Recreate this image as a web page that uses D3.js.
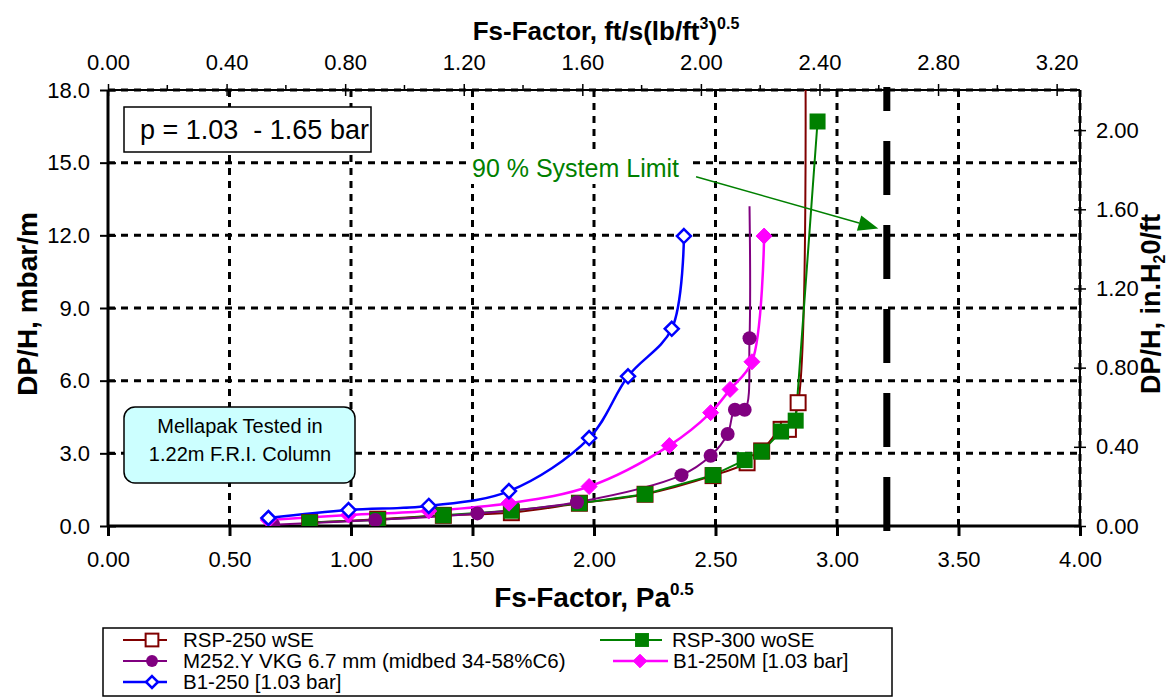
<!DOCTYPE html>
<html>
<head>
<meta charset="utf-8">
<script src="https://cdn.jsdelivr.net/npm/d3@7"></script>
<style>
  body { margin:0; background:#fff; }
  svg text { font-family: "Liberation Sans", Arial, sans-serif; }
</style>
</head>
<body>
<div id="chart"></div>
<script>
// Fs-Factor (Pa^0.5) vs DP/H (mbar/m)
var rsp250X = [0.83, 1.11, 1.38, 1.66, 1.94, 2.21, 2.49, 2.63, 2.69, 2.77, 2.80, 2.84]
var rsp250Y = [0.14, 0.28, 0.44, 0.55, 0.94, 1.31, 2.08, 2.61, 3.10, 3.99, 3.99, 5.09]
var rsp250Tail = [2.87, 19.5]   // line runs off the top

var rsp300X = [0.83, 1.11, 1.38, 1.66, 1.94, 2.21, 2.49, 2.62, 2.69, 2.77, 2.83, 2.92]
var rsp300Y = [0.14, 0.25, 0.44, 0.63, 0.94, 1.31, 2.10, 2.72, 3.07, 3.90, 4.35, 16.7]

var m252X = [0.68, 1.10, 1.52, 1.93, 2.36, 2.48, 2.55, 2.58, 2.62, 2.64]
var m252Y = [0.05, 0.25, 0.52, 0.98, 2.10, 2.90, 3.80, 4.80, 4.80, 7.75]
var m252Tail = [2.64, 13.2]     // line end without marker

var b1250mX = [0.66, 0.99, 1.32, 1.65, 1.98, 2.31, 2.48, 2.56, 2.65, 2.70]
var b1250mY = [0.25, 0.45, 0.62, 0.94, 1.63, 3.32, 4.68, 5.64, 6.78, 11.97]

var b1250X = [0.66, 0.99, 1.32, 1.65, 1.98, 2.14, 2.32, 2.37]
var b1250Y = [0.33, 0.66, 0.83, 1.44, 3.63, 6.18, 8.14, 11.97]

var limitX = 3.205               // 90 % system limit
var arrowFrom = [2.42, 14.42]
var arrowTo = [3.17, 12.28]

var bottomTicks = [0, 0.5, 1, 1.5, 2, 2.5, 3, 3.5, 4]
var leftTicks = [0, 3, 6, 9, 12, 15, 18]
var topTicks = [0, 0.4, 0.8, 1.2, 1.6, 2.0, 2.4, 2.8, 3.2]
var rightTicks = [0, 0.4, 0.8, 1.2, 1.6, 2.0]

var W = 1174, H = 697
var L = 108, R = 1080, T = 90, B = 526
var FS = "Liberation Sans, Arial, sans-serif"

var svg = d3.select("#chart").append("svg").attr("width", W).attr("height", H)

var x = d3.scaleLinear().domain([0, 4]).range([L, R])
var y = d3.scaleLinear().domain([0, 18]).range([B, T])
// unit conversions for the secondary axes
var xTop = d3.scaleLinear().domain([0, 4 * 0.8197]).range([L, R])
var yRight = d3.scaleLinear().domain([0, 18 * 0.12237]).range([B, T])

svg.append("defs").append("clipPath").attr("id", "plotclip")
  .append("rect").attr("x", L).attr("y", T).attr("width", R - L).attr("height", B - T)

// grid
var grid = svg.append("g")
grid.selectAll("line.gx").data(bottomTicks.slice(1)).enter().append("line")
  .attr("x1", d => x(d)).attr("x2", d => x(d)).attr("y1", T).attr("y2", B)
  .attr("stroke", "#000").attr("stroke-width", 3).attr("stroke-dasharray", "7,6")
grid.selectAll("line.gy").data(leftTicks.slice(1)).enter().append("line")
  .attr("x1", L).attr("x2", R).attr("y1", d => y(d)).attr("y2", d => y(d))
  .attr("stroke", "#000").attr("stroke-width", 3).attr("stroke-dasharray", "7,6")

// frame lines
svg.append("line").attr("x1", L).attr("x2", R).attr("y1", T).attr("y2", T).attr("stroke", "#000").attr("stroke-width", 2)
svg.append("line").attr("x1", R).attr("x2", R).attr("y1", T).attr("y2", B).attr("stroke", "#000").attr("stroke-width", 2)

// axes
function styleAxis(g) {
  g.selectAll("text").attr("font-family", FS).attr("font-size", 22).attr("fill", "#000")
  g.selectAll("line").attr("stroke", "#000").attr("stroke-width", 1.5)
  g.select(".domain").remove()
}
var axB = svg.append("g").attr("transform", "translate(0," + B + ")")
  .call(d3.axisBottom(x).tickValues(bottomTicks).tickFormat(d3.format(".2f")).tickSize(10).tickPadding(15))
styleAxis(axB)
axB.selectAll("line").attr("stroke-width", 3)

var axL = svg.append("g").attr("transform", "translate(" + L + ",0)")
  .call(d3.axisLeft(y).tickValues(leftTicks).tickFormat(d3.format(".1f")).tickSize(8).tickPadding(10))
styleAxis(axL)
axL.selectAll(".tick line").attr("x2", 8).attr("x1", -8).attr("stroke-width", 2)

var axT = svg.append("g").attr("transform", "translate(0," + T + ")")
  .call(d3.axisTop(xTop).tickValues(topTicks).tickFormat(d3.format(".2f")).tickSize(6).tickPadding(14))
styleAxis(axT)
axT.selectAll(".tick line").attr("y2", -6).attr("y1", 6)
svg.append("g").selectAll("line").data(d3.range(0.2, 3.3, 0.4)).enter().append("line")
  .attr("x1", d => xTop(d)).attr("x2", d => xTop(d)).attr("y1", T).attr("y2", T - 5)
  .attr("stroke", "#000").attr("stroke-width", 1.5)

var axR = svg.append("g").attr("transform", "translate(" + R + ",0)")
  .call(d3.axisRight(yRight).tickValues(rightTicks).tickFormat(d3.format(".2f")).tickSize(6).tickPadding(10))
styleAxis(axR)
axR.selectAll(".tick line").attr("x1", -6).attr("x2", 6)

svg.append("line").attr("x1", L).attr("x2", L).attr("y1", T).attr("y2", B).attr("stroke", "#000").attr("stroke-width", 3)
svg.append("line").attr("x1", L).attr("x2", R).attr("y1", B).attr("y2", B).attr("stroke", "#000").attr("stroke-width", 3)

// axis titles
var tB = svg.append("text").attr("x", 594).attr("y", 607).attr("text-anchor", "middle")
  .attr("font-size", 28).attr("font-weight", "bold")
tB.append("tspan").text("Fs-Factor, Pa")
tB.append("tspan").text("0.5").attr("font-size", 17).attr("dy", -12)

var tT = svg.append("text").attr("x", 606).attr("y", 40).attr("text-anchor", "middle")
  .attr("font-size", 26).attr("font-weight", "bold")
tT.append("tspan").text("Fs-Factor, ft/s(lb/ft")
tT.append("tspan").text("3").attr("font-size", 16).attr("dy", -11)
tT.append("tspan").text(")").attr("dy", 11)
tT.append("tspan").text("0.5").attr("font-size", 16).attr("dy", -11)

svg.append("text").attr("transform", "translate(37,304) rotate(-90)").attr("text-anchor", "middle")
  .attr("font-size", 28).attr("font-weight", "bold").text("DP/H, mbar/m")

var tR = svg.append("text").attr("transform", "translate(1160,304) rotate(-90)").attr("text-anchor", "middle")
  .attr("font-size", 27).attr("font-weight", "bold")
tR.append("tspan").text("DP/H, in.H")
tR.append("tspan").text("2").attr("font-size", 16).attr("dy", 5)
tR.append("tspan").text("0/ft").attr("dy", -5)

// 90% limit line
svg.append("line").attr("x1", x(limitX)).attr("x2", x(limitX)).attr("y1", B + 5).attr("y2", T - 3)
  .attr("stroke", "#000").attr("stroke-width", 7).attr("stroke-dasharray", "54,30")

// series
var series = [
  {xs: rsp250X, ys: rsp250Y, tail: rsp250Tail, color: "#800000", w: 2, curve: d3.curveCatmullRom.alpha(0.5), mark: "sq", fill: "#fff", label: "RSP-250 wSE"},
  {xs: rsp300X, ys: rsp300Y, color: "#008000", w: 2, curve: d3.curveLinear, mark: "sq", fill: "#008000", label: "RSP-300 woSE"},
  {xs: m252X, ys: m252Y, tail: m252Tail, color: "#800080", w: 2, curve: d3.curveCatmullRom.alpha(0.5), mark: "circle", fill: "#800080", label: "M252.Y VKG 6.7 mm (midbed 34-58%C6)"},
  {xs: b1250mX, ys: b1250mY, color: "#FF00FF", w: 2.5, curve: d3.curveCatmullRom.alpha(0.5), mark: "diamond", fill: "#FF00FF", label: "B1-250M [1.03 bar]"},
  {xs: b1250X, ys: b1250Y, color: "#0000FF", w: 2.5, curve: d3.curveCatmullRom.alpha(0.5), mark: "diamond", fill: "#fff", label: "B1-250 [1.03 bar]"}
]

function drawMarker(g, s, cx, cy, scale) {
  var k = scale || 1
  if (s.mark == "sq") {
    var sz = (s.fill == "#fff" ? 15 : 14) * k
    g.append("rect").attr("x", cx - sz / 2).attr("y", cy - sz / 2).attr("width", sz).attr("height", sz)
      .attr("fill", s.fill).attr("stroke", s.fill == "#fff" ? s.color : "#008000").attr("stroke-width", 2)
  } else if (s.mark == "circle") {
    g.append("circle").attr("cx", cx).attr("cy", cy).attr("r", 7 * k).attr("fill", s.fill)
  } else {
    var r = (s.fill == "#fff" ? 7 : 8) * k
    g.append("path").attr("d", "M" + cx + "," + (cy - r) + "L" + (cx + r) + "," + cy + "L" + cx + "," + (cy + r) + "L" + (cx - r) + "," + cy + "Z")
      .attr("fill", s.fill).attr("stroke", s.color).attr("stroke-width", s.fill == "#fff" ? 2.5 : 1)
  }
}

var plot = svg.append("g").attr("clip-path", "url(#plotclip)")
series.forEach(function(s) {
  var pts = s.xs.map((v, i) => [v, s.ys[i]])
  var linePts = s.tail ? pts.concat([s.tail]) : pts
  plot.append("path").datum(linePts)
    .attr("d", d3.line().x(d => x(d[0])).y(d => y(d[1])).curve(s.curve))
    .attr("fill", "none").attr("stroke", s.color).attr("stroke-width", s.w)
})
series.forEach(function(s) {
  var g = plot.append("g")
  s.xs.forEach(function(v, i) { drawMarker(g, s, x(v), y(s.ys[i])) })
})

// p box
svg.append("rect").attr("x", 124).attr("y", 107).attr("width", 247).attr("height", 45)
  .attr("fill", "#fff").attr("stroke", "#000").attr("stroke-width", 1.5)
svg.append("text").attr("x", 140).attr("y", 139).attr("font-size", 27).text("p = 1.03  - 1.65 bar")
  .attr("xml:space", "preserve").style("white-space", "pre")

// Mellapak box
svg.append("rect").attr("x", 124).attr("y", 407).attr("width", 231).attr("height", 76).attr("rx", 11)
  .attr("fill", "#CCFFFF").attr("stroke", "#000").attr("stroke-width", 1.5)
svg.append("text").attr("x", 240).attr("y", 433).attr("text-anchor", "middle").attr("font-size", 20).text("Mellapak Tested in")
svg.append("text").attr("x", 240).attr("y", 461).attr("text-anchor", "middle").attr("font-size", 20).text("1.22m F.R.I. Column")

// system limit annotation
svg.append("rect").attr("x", 466).attr("y", 152).attr("width", 226).attr("height", 32).attr("fill", "#fff")
svg.append("text").attr("x", 472).attr("y", 177).attr("font-size", 25).attr("fill", "#008000").text("90 % System Limit")
var ax1 = x(arrowFrom[0]), ay1 = y(arrowFrom[1]), ax2 = x(arrowTo[0]), ay2 = y(arrowTo[1])
var ang = Math.atan2(ay2 - ay1, ax2 - ax1)
var hl = 20, hw = 8
var bx = ax2 - hl * Math.cos(ang), by = ay2 - hl * Math.sin(ang)
svg.append("line").attr("x1", ax1).attr("y1", ay1).attr("x2", bx).attr("y2", by)
  .attr("stroke", "#008000").attr("stroke-width", 1.5)
svg.append("path").attr("fill", "#008000")
  .attr("d", "M" + ax2 + "," + ay2 + "L" + (bx + hw * Math.sin(ang)) + "," + (by - hw * Math.cos(ang)) +
    "L" + (bx - hw * Math.sin(ang)) + "," + (by + hw * Math.cos(ang)) + "Z")

// legend
var leg = svg.append("g")
leg.append("rect").attr("x", 103).attr("y", 628).attr("width", 789).attr("height", 68)
  .attr("fill", "#fff").attr("stroke", "#000").attr("stroke-width", 1.5)
var legPos = [[123, 640], [600, 640], [123, 661], [613, 661], [123, 682]]
var legText = [183, 672, 183, 673, 183]
series.forEach(function(s, i) {
  var p = legPos[i]
  var len = i == 3 ? 55 : (i == 1 ? 62 : 44)
  leg.append("line").attr("x1", p[0]).attr("x2", p[0] + len).attr("y1", p[1]).attr("y2", p[1])
    .attr("stroke", s.color).attr("stroke-width", s.w)
  var mx = i == 1 ? 642 : (i == 3 ? 640 : 152)
  drawMarker(leg, s, mx, p[1], 0.85)
  leg.append("text").attr("x", legText[i]).attr("y", p[1] + 7).attr("font-size", 20.5).text(s.label)
})
</script>
</body>
</html>
